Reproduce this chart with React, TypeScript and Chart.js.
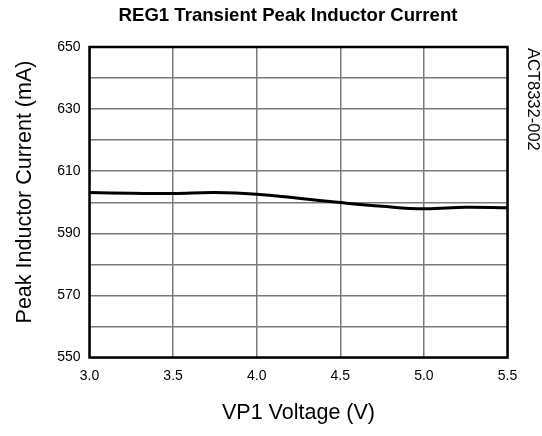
import React, { useEffect, useRef } from "react";
import { Chart, registerables } from "chart.js";

Chart.register(...registerables);

const voltages = [3.0, 3.25, 3.5, 3.75, 4.0, 4.25, 4.5, 4.75, 5.0, 5.25, 5.5];
const peakCurrent = [603.1, 602.9, 602.8, 603.1, 602.6, 601.3, 599.9, 598.7, 597.9, 598.4, 598.2];
const yLabelValues = [550, 570, 590, 610, 630, 650];

const chartTitle = "REG1 Transient Peak Inductor Current";
const xTitle = "VP1 Voltage (V)";
const yTitle = "Peak Inductor Current (mA)";
const sideNote = "ACT8332-002";

const FONT = "'Liberation Sans', Arial, sans-serif";

export default function App() {
  const ref = useRef<HTMLCanvasElement | null>(null);

  useEffect(() => {
    if (!ref.current) return;
    const textPlugin = {
      id: "texts",
      afterDraw(chart: any) {
        const ctx = chart.ctx;
        const a = chart.chartArea;
        ctx.save();
        // frame
        ctx.strokeStyle = "#000";
        ctx.lineWidth = 2.5;
        ctx.strokeRect(a.left, a.top, a.right - a.left, a.bottom - a.top);
        // title
        ctx.fillStyle = "#000";
        ctx.font = `bold 18.6px ${FONT}`;
        ctx.textAlign = "center";
        ctx.textBaseline = "middle";
        ctx.fillText(chartTitle, 288, 16);
        // y title
        ctx.save();
        ctx.translate(25, 192);
        ctx.rotate(-Math.PI / 2);
        ctx.font = `21.5px ${FONT}`;
        ctx.fillText(yTitle, 0, 0);
        ctx.restore();
        // side note
        ctx.save();
        ctx.translate(533, 48);
        ctx.rotate(Math.PI / 2);
        ctx.font = `16.5px ${FONT}`;
        ctx.textAlign = "left";
        ctx.fillText(sideNote, 0, 0);
        ctx.restore();
        ctx.restore();
      },
    };

    const chart = new Chart(ref.current, {
      type: "line",
      data: {
        datasets: [
          {
            data: voltages.map((v, i) => ({ x: v, y: peakCurrent[i] })),
            borderColor: "#000",
            borderWidth: 3,
            pointRadius: 0,
            tension: 0.4,
            fill: false,
          },
        ],
      },
      options: {
        animation: false,
        responsive: false,
        layout: { padding: { top: 47, right: 34.5, bottom: 0, left: 0 } },
        plugins: { legend: { display: false }, tooltip: { enabled: false }, title: { display: false } },
        scales: {
          x: {
            type: "linear",
            min: 3,
            max: 5.5,
            afterFit(scale: any) {
              scale.height = 78.5;
            },
            ticks: {
              stepSize: 0.5,
              padding: 10,
              color: "#000",
              font: { family: FONT, size: 14 },
              maxRotation: 0,
              callback: (v: any) => Number(v).toFixed(1),
            },
            grid: { color: "#7a7a7a", lineWidth: 1.5, tickLength: 0, drawTicks: false },
            border: { display: false },
            title: {
              display: true,
              text: xTitle,
              color: "#000",
              font: { family: FONT, size: 21.5 },
              padding: { top: 0, bottom: 10 },
            },
          },
          y: {
            type: "linear",
            min: 550,
            max: 650,
            afterFit(scale: any) {
              scale.width = 89.5;
            },
            ticks: {
              stepSize: 10,
              padding: 9,
              color: "#000",
              autoSkip: false,
              font: { family: FONT, size: 14 },
              callback: (v: any) => (yLabelValues.includes(Number(v)) ? String(v) : ""),
            },
            grid: { color: "#7a7a7a", lineWidth: 1.5, tickLength: 0, drawTicks: false },
            border: { display: false },
          },
        },
      },
      plugins: [textPlugin],
    });
    return () => chart.destroy();
  }, []);

  return (
    <canvas
      ref={ref}
      width={542}
      height={436}
      style={{ display: "block", position: "absolute", left: 0, top: 0 }}
    />
  );
}
